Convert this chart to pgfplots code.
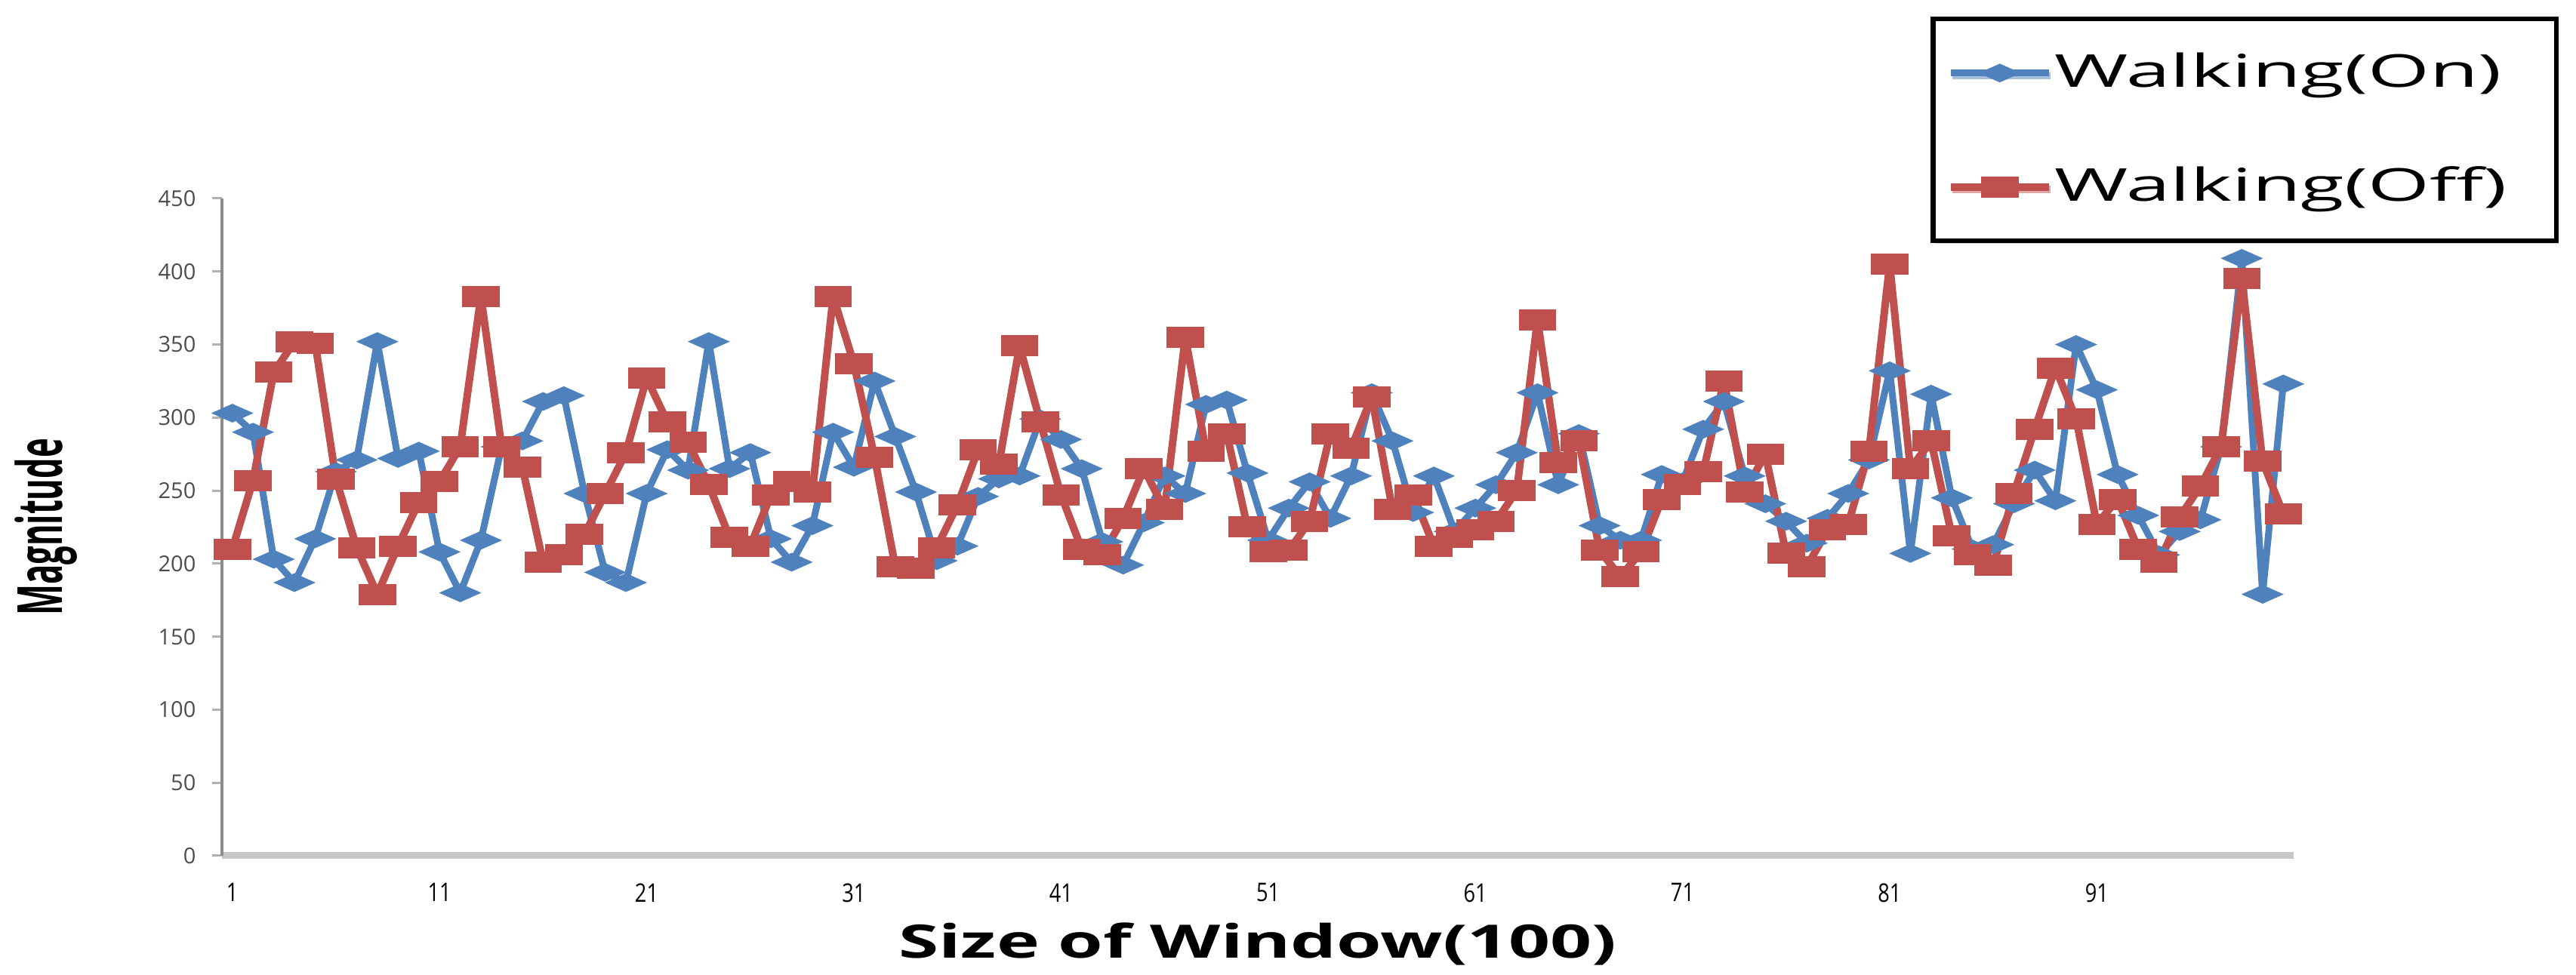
\documentclass[border=0pt]{standalone}
\usepackage{pgfplots}
\pgfplotsset{compat=1.18}
\usepackage{pgfplotstable}
\usepackage{fontspec}
\setmainfont{Open Sans}
\usetikzlibrary{shadows}
\definecolor{exblue}{RGB}{79,129,189}
\definecolor{exred}{RGB}{192,80,77}
\newcommand\xt[1]{\scalebox{0.8}[1]{#1}}

\pgfplotstableread{
x on off
1 303 210
2 290 257
3 203 331
4 187 352
5 217 351
6 263 258
7 271 211
8 352 179
9 272 212
10 277 242
11 208 256
12 180 280
13 216 383
14 280 280
15 284 266
16 311 201
17 315 206
18 248 220
19 194 248
20 187 276
21 248 327
22 278 297
23 264 283
24 352 254
25 265 218
26 276 212
27 217 247
28 201 256
29 226 249
30 290 383
31 266 337
32 325 273
33 287 198
34 249 197
35 202 211
36 212 240
37 246 278
38 258 268
39 260 349
40 299 297
41 285 247
42 265 210
43 215 206
44 199 231
45 228 265
46 260 237
47 248 355
48 309 277
49 312 289
50 262 225
51 216 208
52 238 209
53 256 229
54 231 289
55 260 279
56 317 314
57 284 237
58 235 247
59 260 212
60 222 218
61 238 223
62 254 229
63 276 250
64 317 367
65 254 269
66 289 284
67 226 209
68 216 191
69 216 208
70 261 244
71 256 254
72 292 263
73 311 325
74 260 249
75 241 275
76 229 207
77 214 198
78 231 223
79 248 227
80 271 277
81 332 405
82 207 265
83 316 284
84 245 219
85 210 206
86 213 199
87 241 248
88 264 292
89 243 334
90 350 299
91 319 227
92 261 244
93 233 210
94 206 201
95 222 232
96 230 253
97 280 280
98 409 395
99 179 270
100 323 234
}\datatable

\begin{document}
\begin{tikzpicture}
\begin{axis}[
  at={(58.8pt,31.6pt)}, anchor=south west,
  scale only axis, width=548.8pt, height=174.2pt,
  xmin=0.5, xmax=100.5, ymin=0, ymax=450,
  xtick={1,11,21,31,41,51,61,71,81,91},
  xticklabels={\xt{1},\xt{11},\xt{21},\xt{31},\xt{41},\xt{51},\xt{61},\xt{71},\xt{81},\xt{91}},
  ytick={0,50,...,450},
  axis x line*=bottom, axis y line*=left,
  x axis line style={-, draw=black!22, line width=1.8pt},
  y axis line style={-, draw=black!45, line width=0.8pt},
  xtick style={draw=none},
  ytick style={draw=black!30, line width=0.6pt},
  tick align=outside, major tick length=2.6pt,
  /pgf/number format/assume math mode=true,
  yticklabel style={font=\fontsize{5.8}{7}\selectfont, text=black!70, xshift=-0.8pt},
  xticklabel style={font=\fontsize{6.8}{7}\selectfont, yshift=-1.2pt},
  xlabel={\scalebox{1.58}[1]{\bfseries\fontsize{12.2}{14}\selectfont Size of Window(100)}},
  ylabel={\scalebox{1}[1.9]{\bfseries\fontsize{8.7}{10}\selectfont Magnitude}},
  every axis x label/.style={at={(rel axis cs:0.5,0)}, yshift=-23.4pt, anchor=center},
  every axis y label/.style={at={(rel axis cs:0,0.5)}, xshift=-46.6pt, rotate=90, anchor=center},
  legend image code/.code={\draw[#1, mark repeat=2, mark phase=2] plot coordinates {(0pt,0pt) (13pt,0pt) (26pt,0pt)};},
  legend style={at={(rel axis cs:0.8247,1.2767)}, anchor=north west, draw=black, line width=1.3pt, fill=white,
    drop shadow={shadow xshift=0.5pt, shadow yshift=-0.7pt, fill=black!35},
    inner xsep=3.7pt, inner ysep=8.5pt, row sep=18.5pt,
    nodes={inner sep=0.5pt, anchor=west}, font=\fontsize{12}{14}\selectfont},
  legend cell align=left,
]
\addplot[color=exblue, line width=1.8pt, line join=round, mark=diamond*, mark size=1.5pt, mark options={xscale=3.0, solid, fill=exblue, line join=miter}] table[x=x, y=on] {\datatable};
\addlegendentry{\scalebox{1.75}[1]{Walking(On)}}
\addplot[color=exred, line width=2pt, line join=round, mark=square*, mark size=1.8pt, mark options={xscale=2.2, solid, fill=exred, line join=miter}] table[x=x, y=off] {\datatable};
\addlegendentry{\scalebox{1.75}[1]{Walking(Off)}\hspace*{9pt}}
\end{axis}
\pgfresetboundingbox
\useasboundingbox (0,0) rectangle (682.4pt,258.4pt);
\end{tikzpicture}
\end{document}
